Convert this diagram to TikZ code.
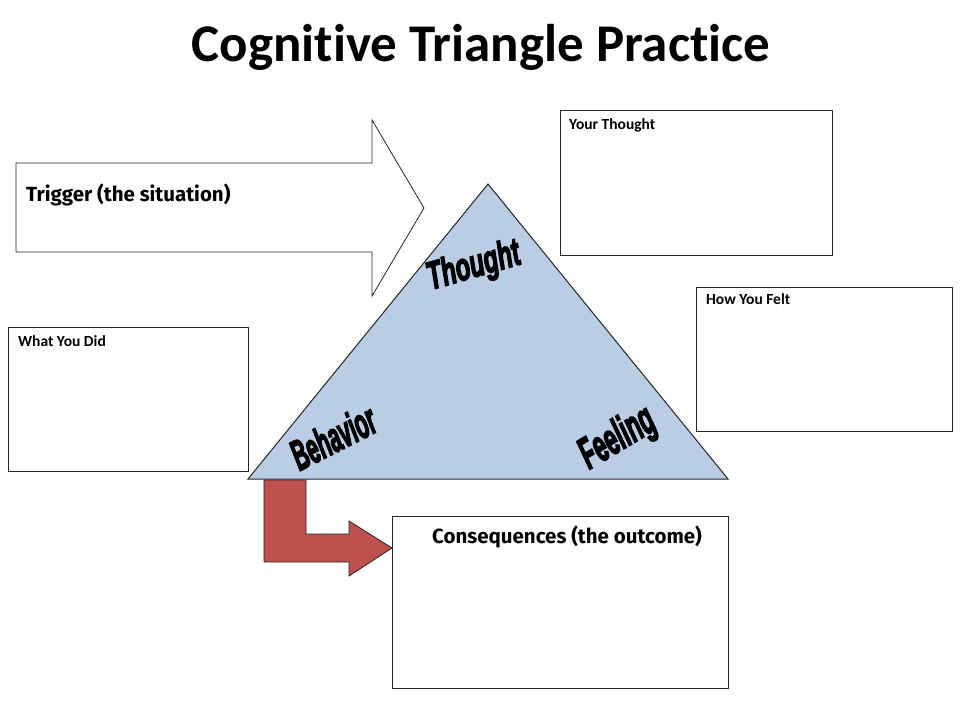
\documentclass[tikz,border=0pt]{standalone}
\usepackage{fontspec}
\setmainfont[Ligatures=NoCommon]{Carlito}
\newfontfamily\labfont{Fira Sans}
\newfontfamily\wordart[UprightFont=Liberation Sans Bold Italic,UprightFeatures={FakeBold=4}]{Liberation Sans}
\usetikzlibrary{calc}
\definecolor{triblue}{HTML}{B9CDE5}
\definecolor{arrred}{HTML}{C0504D}
\definecolor{edge}{HTML}{262626}
\newcommand{\artword}[3]{\scalebox{#1}[#2]{\special{pdf:literal direct 2 Tr 1.1 w}#3\special{pdf:literal direct 0 Tr}}}
\tikzset{
  x=1pt,y=-1pt,
  box/.style={draw=edge,line width=1pt,fill=white},
  boxlab/.style={anchor=north west,inner sep=0pt,font=\fontsize{15.5}{17}\selectfont\bfseries},
  bigword/.style={inner sep=0pt,font=\wordart\fontsize{34}{36}\selectfont},
}
\begin{document}
\begin{tikzpicture}
\useasboundingbox (0,0) rectangle (960,720);
% title
\node[font=\fontsize{53}{60}\selectfont\bfseries] (title) at (481,47) {Cognitive Triangle Practice};
% trigger arrow
\draw[box,line width=0.8pt] (16,163) -- (372,163) -- (372,120) -- (424,208) -- (372,296) -- (372,252) -- (16,252) -- cycle;
\coordinate (trig) at (16,208);
\node[anchor=west,inner sep=0pt,font=\labfont\fontsize{20.5}{23}\selectfont\bfseries] (trigtext) at (26,195) {Trigger (the situation)};
% triangle
\coordinate (A) at (488,184);
\coordinate (B) at (248,479);
\coordinate (C) at (728,479);
\draw[fill=triblue,draw=edge,line width=1pt] (A) -- (B) -- (C) -- cycle;
\node[bigword,rotate=16] (thought) at (474,267) {\artword{0.7}{1.15}{Thought}};
\node[bigword,rotate=27] (behavior) at (333,437) {\artword{0.62}{1.25}{Behavior}};
\node[bigword,rotate=31] (feeling) at (618,439) {\artword{0.68}{1.3}{Feeling}};
% boxes
\draw[box] (560,110) rectangle (832,255);
\node[boxlab] (yt) at (569,118) {Your Thought};
\draw[box] (696,287) rectangle (952,431);
\node[boxlab] (hf) at (706,293) {How You Felt};
\draw[box] (8,327) rectangle (248,471);
\node[boxlab] (wd) at (18,335) {What You Did};
\draw[box] (392,516) rectangle (728,688);
\node[font=\labfont\fontsize{20.5}{23}\selectfont\bfseries] (cons) at (567,537) {Consequences (the outcome)};
% red bent arrow
\draw[fill=arrred,draw=edge,line width=0.8pt] (264,480) -- (306,480) -- (306,534) -- (349,534) -- (349,521) -- (392,548) -- (349,576) -- (349,562) -- (264,562) -- cycle;
\end{tikzpicture}
\end{document}
